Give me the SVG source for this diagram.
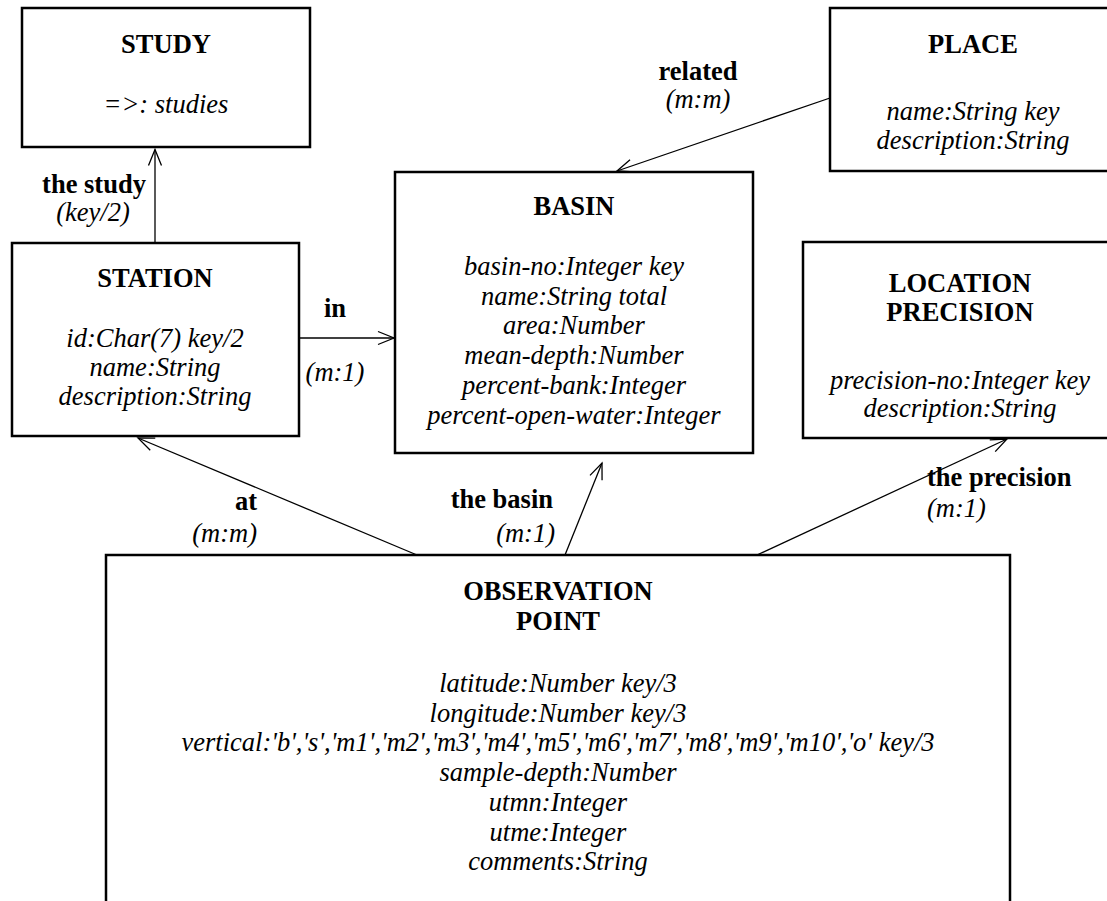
<svg xmlns="http://www.w3.org/2000/svg" width="1107" height="901" viewBox="0 0 1107 901">
<defs>
<style>
.box{fill:#fff;stroke:#000;stroke-width:2.5}
.t{font-family:"Liberation Serif","Times New Roman",serif;font-size:26.5px;font-weight:bold;text-anchor:middle;fill:#000}
.a{font-family:"Liberation Serif","Times New Roman",serif;font-size:26.5px;font-style:italic;text-anchor:middle;fill:#000}
.lb{font-family:"Liberation Serif","Times New Roman",serif;font-size:26.5px;font-weight:bold;fill:#000}
.li{font-family:"Liberation Serif","Times New Roman",serif;font-size:26.5px;font-style:italic;fill:#000}
.c{fill:none;stroke:#000;stroke-width:1.3}
</style>
<marker id="arr" markerUnits="userSpaceOnUse" viewBox="0 0 20 16" markerWidth="20" markerHeight="16" refX="17" refY="8" orient="auto">
<path d="M1,1.5 L17,8 L1,14.5" fill="none" stroke="#000" stroke-width="1.3"/>
</marker>
</defs>
<rect width="1107" height="901" fill="#fff"/>

<g id="study">
<rect class="box" x="22" y="8" width="288" height="139"/>
<text class="t" x="166" y="53">STUDY</text>
<text class="a" x="166" y="113">=&gt;: studies</text>
</g>

<g id="place">
<rect class="box" x="830" y="8" width="290" height="163"/>
<text class="t" x="973" y="53">PLACE</text>
<text class="a" x="973" y="120">name:String key</text>
<text class="a" x="973" y="149">description:String</text>
</g>

<g id="station">
<rect class="box" x="12" y="243" width="287" height="193"/>
<text class="t" x="155" y="287">STATION</text>
<text class="a" x="155" y="347">id:Char(7) key/2</text>
<text class="a" x="155" y="376">name:String</text>
<text class="a" x="155" y="405">description:String</text>
</g>

<g id="basin">
<rect class="box" x="395" y="172" width="358" height="281"/>
<text class="t" x="574" y="215">BASIN</text>
<text class="a" x="574" y="275">basin-no:Integer key</text>
<text class="a" x="574" y="304.7">name:String total</text>
<text class="a" x="574" y="334.4">area:Number</text>
<text class="a" x="574" y="364.1">mean-depth:Number</text>
<text class="a" x="574" y="393.8">percent-bank:Integer</text>
<text class="a" x="574" y="423.5">percent-open-water:Integer</text>
</g>

<g id="location-precision">
<rect class="box" x="803" y="242" width="317" height="196"/>
<text class="t" x="960" y="292">LOCATION</text>
<text class="t" x="960" y="321">PRECISION</text>
<text class="a" x="960" y="389">precision-no:Integer key</text>
<text class="a" x="960" y="417">description:String</text>
</g>

<g id="observation-point">
<rect class="box" x="106" y="555" width="904" height="380"/>
<text class="t" x="558" y="600">OBSERVATION</text>
<text class="t" x="558" y="630">POINT</text>
<text class="a" x="558" y="692">latitude:Number key/3</text>
<text class="a" x="558" y="721.7">longitude:Number key/3</text>
<text class="a" x="558" y="751.4">vertical:'b','s','m1','m2','m3','m4','m5','m6','m7','m8','m9','m10','o' key/3</text>
<text class="a" x="558" y="781.1">sample-depth:Number</text>
<text class="a" x="558" y="810.8">utmn:Integer</text>
<text class="a" x="558" y="840.5">utme:Integer</text>
<text class="a" x="558" y="870.2">comments:String</text>
</g>

<g id="connectors">
<path class="c" d="M155,243 L155,149.5" marker-end="url(#arr)"/>
<path class="c" d="M299,338 L394,338" marker-end="url(#arr)"/>
<path class="c" d="M830,98 L617,171" marker-end="url(#arr)"/>
<path class="c" d="M417,555 L138,438" marker-end="url(#arr)"/>
<path class="c" d="M565,555 L602,463" marker-end="url(#arr)"/>
<path class="c" d="M757,555 L1007,439" marker-end="url(#arr)"/>
<text class="lb" x="94" y="193" text-anchor="middle">the study</text>
<text class="li" x="93" y="221" text-anchor="middle">(key/2)</text>
<text class="lb" x="335" y="317" text-anchor="middle">in</text>
<text class="li" x="335" y="381" text-anchor="middle">(m:1)</text>
<text class="lb" x="698" y="80" text-anchor="middle">related</text>
<text class="li" x="698" y="108" text-anchor="middle">(m:m)</text>
<text class="lb" x="257" y="510" text-anchor="end">at</text>
<text class="li" x="257" y="542" text-anchor="end">(m:m)</text>
<text class="lb" x="553" y="508" text-anchor="end">the basin</text>
<text class="li" x="555" y="542" text-anchor="end">(m:1)</text>
<text class="lb" x="927" y="486">the precision</text>
<text class="li" x="927" y="517">(m:1)</text>
</g>
</svg>
